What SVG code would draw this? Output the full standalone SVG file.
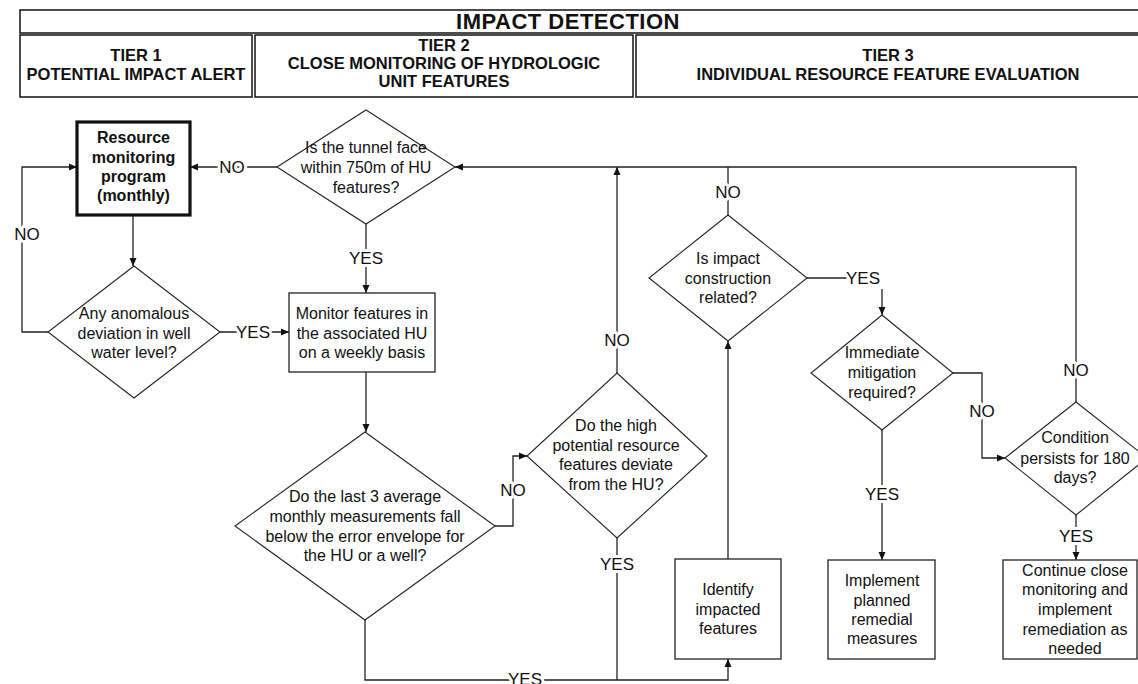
<svg xmlns="http://www.w3.org/2000/svg" width="1138" height="684" viewBox="0 0 1138 684">
<style>
.hdr{fill:#fff;stroke:#111;stroke-width:1.5}
.ht{font-family:"Liberation Sans",Arial,sans-serif;font-weight:bold;font-size:16.5px;fill:#111;text-anchor:middle}
.title{font-size:22px;letter-spacing:0.5px}
.box{fill:#fff;stroke:#222;stroke-width:1.3}
.bold{stroke-width:3.2;stroke:#111}
.dia{fill:#fff;stroke:#222;stroke-width:1.1}
.t{font-family:"Liberation Sans",Arial,sans-serif;font-size:16px;fill:#111;text-anchor:middle}
.tb{font-weight:bold}
.ln{fill:none;stroke:#222;stroke-width:1.3}
.arr{marker-end:url(#ah)}
.lbl{font-family:"Liberation Sans",Arial,sans-serif;font-size:17px;fill:#111;text-anchor:middle;paint-order:stroke;stroke:#fff;stroke-width:6;stroke-linejoin:round}
</style>
<defs>
<marker id="ah" markerWidth="9" markerHeight="8" refX="8" refY="4" orient="auto" markerUnits="userSpaceOnUse">
<path d="M0,0.5 L8,4 L0,7.5 z" fill="#111"/>
</marker>
</defs>
<rect width="1138" height="684" fill="#fff"/>

<g id="header">
<rect class="hdr" x="20" y="10" width="1130" height="23"/>
<text class="ht title" x="568" y="29">IMPACT DETECTION</text>
<rect class="hdr" x="20" y="35" width="232" height="62"/>
<text class="ht" x="136" y="61">TIER 1</text>
<text class="ht" x="136" y="80">POTENTIAL IMPACT ALERT</text>
<rect class="hdr" x="255" y="35" width="378" height="62"/>
<text class="ht" x="444" y="51">TIER 2</text>
<text class="ht" x="444" y="69">CLOSE MONITORING OF HYDROLOGIC</text>
<text class="ht" x="444" y="87">UNIT FEATURES</text>
<rect class="hdr" x="636" y="35" width="514" height="62"/>
<text class="ht" x="888" y="61">TIER 3</text>
<text class="ht" x="888" y="80">INDIVIDUAL RESOURCE FEATURE EVALUATION</text>
</g>

<g id="connectors">
<path class="ln arr" d="M133,215 V266"/>
<path class="ln arr" d="M48,332 H22 V167 H77"/>
<path class="ln arr" d="M220,332 H289"/>
<path class="ln arr" d="M277,167 H190"/>
<path class="ln arr" d="M366,224 V293"/>
<path class="ln arr" d="M366,372 V432"/>
<path class="ln arr" d="M495,526 H513 V456 H527"/>
<path class="ln arr" d="M617,373 V167"/>
<path class="ln arr" d="M1076,402 V167 H455"/>
<path class="ln" d="M728,215 V167"/>
<path class="ln" d="M807,278 H850"/>
<path class="ln arr" d="M882,289 V315"/>
<path class="ln arr" d="M953,373 H982 V458 H1005"/>
<path class="ln arr" d="M882,430 V560"/>
<path class="ln arr" d="M1076,515 V560"/>
<path class="ln arr" d="M365,620 V680 H728 V659"/>
<path class="ln" d="M617,538 V680"/>
<path class="ln arr" d="M728,559 V341"/>
<text class="lbl" x="27" y="240">NO</text>
<text class="lbl" x="253" y="338">YES</text>
<text class="lbl" x="232" y="173">NO</text>
<text class="lbl" x="366" y="264">YES</text>
<text class="lbl" x="513" y="496">NO</text>
<text class="lbl" x="617" y="346">NO</text>
<text class="lbl" x="1076" y="376">NO</text>
<text class="lbl" x="728" y="198">NO</text>
<text class="lbl" x="863" y="284">YES</text>
<text class="lbl" x="982" y="417">NO</text>
<text class="lbl" x="882" y="500">YES</text>
<text class="lbl" x="1076" y="542">YES</text>
<text class="lbl" x="617" y="570">YES</text>
<text class="lbl" x="525" y="685">YES</text>
</g>

<g id="resource">
<rect class="box bold" x="77" y="122" width="113" height="93"/>
<text class="t tb" x="133.5" y="143">Resource</text>
<text class="t tb" x="133.5" y="163">monitoring</text>
<text class="t tb" x="133.5" y="182">program</text>
<text class="t tb" x="133.5" y="201">(monthly)</text>
</g>

<g id="tunnel">
<polygon class="dia" points="366,110 455,167 366,224 277,167"/>
<text class="t" x="366" y="153">Is the tunnel face</text>
<text class="t" x="366" y="173">within 750m of HU</text>
<text class="t" x="366" y="193">features?</text>
</g>

<g id="anomalous">
<polygon class="dia" points="134,266 220,332 134,398 48,332"/>
<text class="t" x="134" y="319">Any anomalous</text>
<text class="t" x="134" y="339">deviation in well</text>
<text class="t" x="134" y="358">water level?</text>
</g>

<g id="monitor">
<rect class="box" x="289" y="293" width="146" height="79"/>
<text class="t" x="362" y="319">Monitor features in</text>
<text class="t" x="362" y="339">the associated HU</text>
<text class="t" x="362" y="358">on a weekly basis</text>
</g>

<g id="last3">
<polygon class="dia" points="365,432 495,526 365,620 235,526"/>
<text class="t" x="365" y="502">Do the last 3 average</text>
<text class="t" x="365" y="522">monthly measurements fall</text>
<text class="t" x="365" y="542">below the error envelope for</text>
<text class="t" x="365" y="561">the HU or a well?</text>
</g>

<g id="highpotential">
<polygon class="dia" points="617,373 707,456 617,538 527,456"/>
<text class="t" x="616" y="431">Do the high</text>
<text class="t" x="616" y="451">potential resource</text>
<text class="t" x="616" y="470">features deviate</text>
<text class="t" x="616" y="490">from the HU?</text>
</g>

<g id="construction">
<polygon class="dia" points="728,215 807,278 728,341 649,278"/>
<text class="t" x="728" y="264">Is impact</text>
<text class="t" x="728" y="284">construction</text>
<text class="t" x="728" y="303">related?</text>
</g>

<g id="mitigation">
<polygon class="dia" points="882,315 953,373 882,430 811,373"/>
<text class="t" x="882" y="358">Immediate</text>
<text class="t" x="882" y="378">mitigation</text>
<text class="t" x="882" y="398">required?</text>
</g>

<g id="persists">
<polygon class="dia" points="1076,402 1147,458 1076,515 1005,458"/>
<text class="t" x="1075" y="443">Condition</text>
<text class="t" x="1075" y="464">persists for 180</text>
<text class="t" x="1075" y="483">days?</text>
</g>

<g id="identify">
<rect class="box" x="675" y="559" width="106" height="100"/>
<text class="t" x="728" y="595">Identify</text>
<text class="t" x="728" y="615">impacted</text>
<text class="t" x="728" y="634">features</text>
</g>

<g id="implement">
<rect class="box" x="828" y="560" width="107" height="99"/>
<text class="t" x="882" y="586">Implement</text>
<text class="t" x="882" y="606">planned</text>
<text class="t" x="882" y="625">remedial</text>
<text class="t" x="882" y="644">measures</text>
</g>

<g id="continue">
<rect class="box" x="1003" y="560" width="134" height="99"/>
<text class="t" x="1075" y="576">Continue close</text>
<text class="t" x="1075" y="595">monitoring and</text>
<text class="t" x="1075" y="615">implement</text>
<text class="t" x="1075" y="635">remediation as</text>
<text class="t" x="1075" y="654">needed</text>
</g>
</svg>
